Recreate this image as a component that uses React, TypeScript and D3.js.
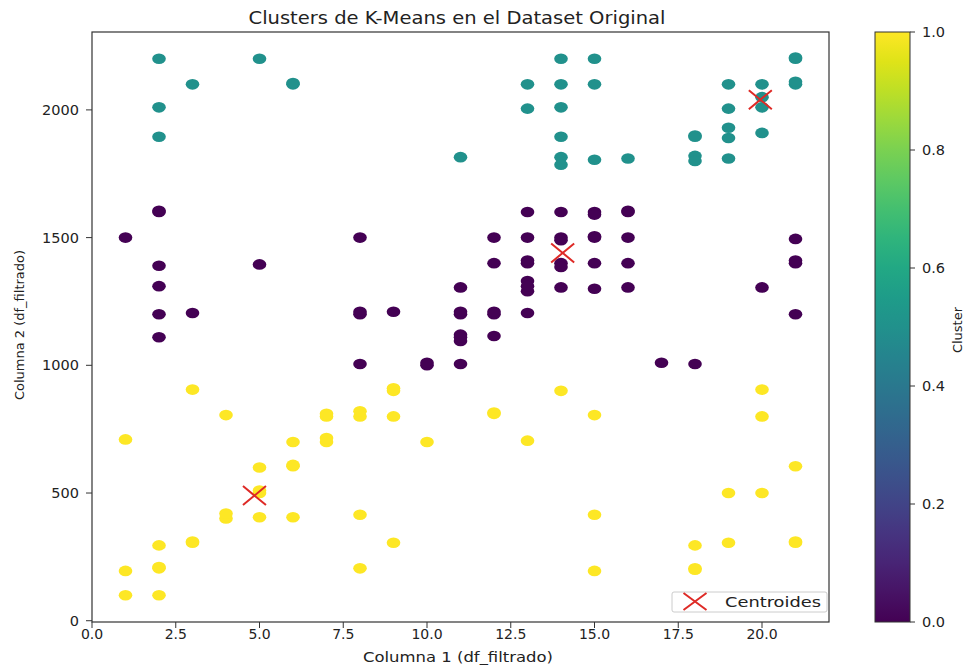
import React from 'react';
import * as d3 from 'd3';

// cluster 0 (purple), 1 (teal), 2 (yellow) as [columna1, columna2]
const cluster0: [number, number][] = [
  [1, 1500], [2, 1600], [2, 1605], [2, 1390], [2, 1310], [2, 1200], [2, 1110], [3, 1205], [5, 1395],
  [8, 1500], [8, 1200], [8, 1210], [8, 1005], [9, 1210], [10, 1000], [10, 1010],
  [11, 1305], [11, 1200], [11, 1210], [11, 1120], [11, 1095], [11, 1110], [11, 1005],
  [12, 1500], [12, 1400], [12, 1200], [12, 1210], [12, 1115],
  [13, 1600], [13, 1500], [13, 1400], [13, 1410], [13, 1330], [13, 1290], [13, 1310], [13, 1205],
  [14, 1600], [14, 1500], [14, 1490], [14, 1400], [14, 1385], [14, 1305],
  [15, 1600], [15, 1590], [15, 1500], [15, 1505], [15, 1400], [15, 1300],
  [16, 1600], [16, 1605], [16, 1500], [16, 1400], [16, 1305],
  [17, 1010], [18, 1005], [20, 1305], [21, 1495], [21, 1400], [21, 1410], [21, 1200],
];
const cluster1: [number, number][] = [
  [2, 2200], [2, 2010], [2, 1895], [3, 2100], [5, 2200], [6, 2100], [6, 2105], [11, 1815],
  [13, 2100], [13, 2005], [14, 2200], [14, 2100], [14, 2010], [14, 1895], [14, 1815], [14, 1785],
  [15, 2200], [15, 2100], [15, 1805], [16, 1810],
  [18, 1895], [18, 1900], [18, 1820], [18, 1800],
  [19, 2100], [19, 2005], [19, 1930], [19, 1890], [19, 1810],
  [20, 2100], [20, 2010], [20, 2050], [20, 1910], [21, 2200], [21, 2205], [21, 2100], [21, 2110],
];
const cluster2: [number, number][] = [
  [1, 710], [1, 195], [1, 100], [2, 295], [2, 205], [2, 210], [2, 100], [3, 905], [3, 305], [3, 310],
  [4, 805], [4, 400], [4, 420], [5, 600], [5, 500], [5, 510], [5, 405], [6, 700], [6, 605], [6, 610], [6, 405],
  [7, 800], [7, 810], [7, 700], [7, 715], [8, 800], [8, 820], [8, 415], [8, 205],
  [9, 900], [9, 910], [9, 800], [9, 305], [10, 700], [12, 810], [12, 815], [13, 705], [14, 900],
  [15, 805], [15, 415], [15, 195], [18, 295], [18, 205], [18, 200], [19, 500], [19, 305],
  [20, 905], [20, 800], [20, 500], [21, 605], [21, 310], [21, 305],
];
const clusterValues = [0, 0.5, 1];
const centroids: [number, number][] = [[14.05, 1440], [19.95, 2040], [4.85, 490]];

const xTicks = [0, 2.5, 5, 7.5, 10, 12.5, 15, 17.5, 20];
const yTicks = [0, 500, 1000, 1500, 2000];
const cbTicks = [0, 0.2, 0.4, 0.6, 0.8, 1.0];

const title = 'Clusters de K-Means en el Dataset Original';
const xLabel = 'Columna 1 (df_filtrado)';
const yLabel = 'Columna 2 (df_filtrado)';
const cbLabel = 'Cluster';
const legendLabel = 'Centroides';

const font = '"DejaVu Sans", sans-serif';

export default function App() {
  const margin = { left: 92, right: 829, top: 32, bottom: 622 };
  const x = d3.scaleLinear().domain([0, 22]).range([margin.left, margin.right]);
  const y = d3.scaleLinear().domain([-5, 2305]).range([margin.bottom, margin.top]);
  const cb = d3.scaleLinear().domain([0, 1]).range([622, 32]);
  const color = (v: number) => d3.interpolateViridis(v);

  const clusters = [cluster0, cluster1, cluster2];
  const stops = d3.range(0, 1.0001, 0.05);

  const cross = (cx: number, cy: number, w: number, h: number) =>
    `M${cx - w},${cy - h}L${cx + w},${cy + h}M${cx - w},${cy + h}L${cx + w},${cy - h}`;

  return (
    <div style={{ position: 'absolute', left: 0, top: 0 }}>
      <svg width={972} height={666} style={{ display: 'block', background: '#fff' }}>
        <defs>
          <linearGradient id="viridis" x1="0" y1="1" x2="0" y2="0">
            {stops.map((s) => (
              <stop key={s} offset={`${s * 100}%`} stopColor={color(s)} />
            ))}
          </linearGradient>
        </defs>

        <text x={457} y={24} textAnchor="middle" fontFamily={font} fontSize={17} fill="#222"
          textLength={417} lengthAdjust="spacingAndGlyphs">
          {title}
        </text>

        {/* points */}
        {clusters.map((pts, ci) =>
          pts.map((d, i) => (
            <ellipse key={`${ci}-${i}`} cx={x(d[0])} cy={y(d[1])} rx={6.8} ry={5.3} fill={color(clusterValues[ci])} />
          ))
        )}

        {/* centroids */}
        {centroids.map((d, i) => (
          <path key={i} d={cross(x(d[0]), y(d[1]), 11.5, 9.5)} stroke="#de2a26" strokeWidth={2} fill="none" />
        ))}

        {/* frame */}
        <rect x={margin.left} y={margin.top} width={margin.right - margin.left} height={margin.bottom - margin.top}
          fill="none" stroke="#333" strokeWidth={1.2} />

        {/* x axis */}
        {xTicks.map((t) => (
          <g key={t} transform={`translate(${x(t)},${margin.bottom})`}>
            <line y2={6} stroke="#333" />
            <text y={17} textAnchor="middle" fontFamily={font} fontSize={14} fill="#222">{t.toFixed(1)}</text>
          </g>
        ))}
        <text x={458} y={662} textAnchor="middle" fontFamily={font} fontSize={14.5} fill="#222"
          textLength={190} lengthAdjust="spacingAndGlyphs">
          {xLabel}
        </text>

        {/* y axis */}
        {yTicks.map((t) => (
          <g key={t} transform={`translate(${margin.left},${y(t)})`}>
            <line x2={-6} stroke="#333" />
            <text x={-13} dy="0.35em" textAnchor="end" fontFamily={font} fontSize={14.5} fill="#222">{t}</text>
          </g>
        ))}
        <text transform={`translate(24,325) rotate(-90)`} textAnchor="middle"
          fontFamily={font} fontSize={13} fill="#222">
          {yLabel}
        </text>

        {/* legend */}
        <rect x={672} y={592} width={155} height={20} rx={2} fill="#fff" fillOpacity={0.8} stroke="#ccc" />
        <path d={cross(695, 601.5, 11.5, 8.5)} stroke="#de2a26" strokeWidth={2} fill="none" />
        <text x={725} y={607} fontFamily={font} fontSize={14.5} fill="#222"
          textLength={96} lengthAdjust="spacingAndGlyphs">{legendLabel}</text>

        {/* colorbar */}
        <rect x={875} y={32} width={35} height={590} fill="url(#viridis)" stroke="#333" strokeWidth={1} />
        {cbTicks.map((t) => (
          <g key={t} transform={`translate(910,${cb(t)})`}>
            <line x2={5} stroke="#333" />
            <text x={12} dy="0.35em" fontFamily={font} fontSize={14.5} fill="#222">{t.toFixed(1)}</text>
          </g>
        ))}
        <text transform={`translate(962,330) rotate(-90)`} textAnchor="middle" fontFamily={font} fontSize={13} fill="#222">
          {cbLabel}
        </text>
      </svg>
    </div>
  );
}
